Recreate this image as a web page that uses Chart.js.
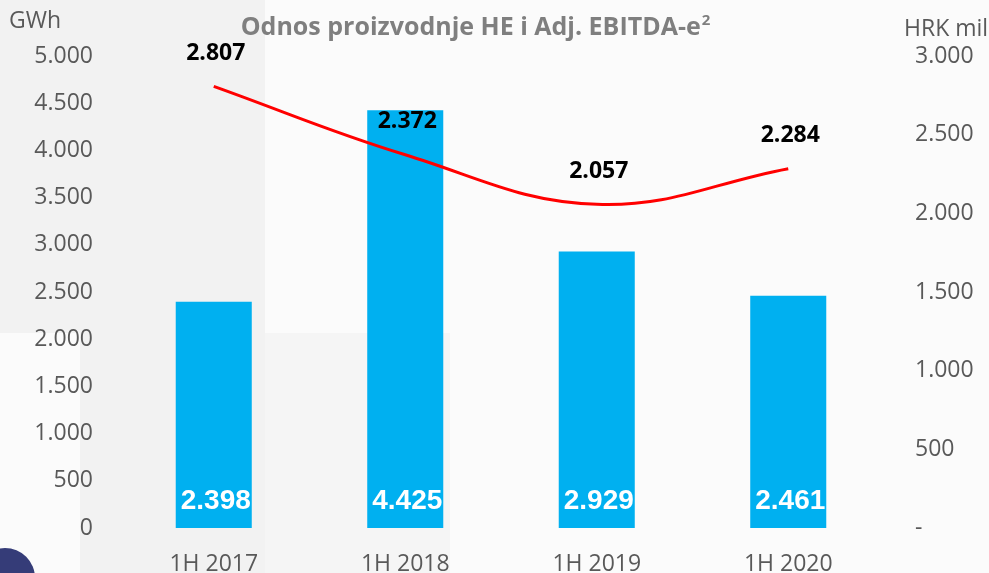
<!DOCTYPE html>
<html>
<head>
<meta charset="utf-8">
<script src="https://cdn.jsdelivr.net/npm/chart.js@4"></script>
<style>
  body { margin: 0; background: #fff; }
  #wrap { position: relative; width: 989px; height: 573px; overflow: hidden; background: #fbfbfb; }
  .bg { position: absolute; }
  canvas { position: absolute; left: 0; top: 0; }
</style>
</head>
<body>
<div id="wrap">
  <div class="bg" style="left:0;top:0;width:265px;height:333px;background:#f2f2f2"></div>
  <div class="bg" style="left:80px;top:333px;width:185px;height:240px;background:#f2f2f2"></div>
  <div class="bg" style="left:265px;top:333px;width:185px;height:240px;background:#f5f5f5"></div>
  <div class="bg" style="left:-25px;top:548px;width:60px;height:60px;border-radius:50%;background:#353c78"></div>
  <canvas id="chart" width="989" height="573"></canvas>
</div>
<script>
const categories = ['1H 2017', '1H 2018', '1H 2019', '1H 2020'];
const productionGWh = [2398, 4425, 2929, 2461];
const ebitdaHRK = [2807, 2372, 2057, 2284];
const leftTicks = [0, 500, 1000, 1500, 2000, 2500, 3000, 3500, 4000, 4500, 5000];
const rightTicks = [0, 500, 1000, 1500, 2000, 2500, 3000];

function fmt(v) {
  return String(v).replace(/\B(?=(\d{3})+(?!\d))/g, '.');
}

const tickColor = '#595959';

// labels, title and axis units drawn on the canvas
const labelsPlugin = {
  id: 'labels',
  afterDatasetsDraw(chart) {
    const ctx = chart.ctx;
    const y = chart.scales.y;
    ctx.save();
    ctx.textAlign = 'center';
    ctx.textBaseline = 'middle';

    ctx.font = 'bold 28px "Liberation Sans"';
    ctx.fillStyle = '#ffffff';
    chart.getDatasetMeta(0).data.forEach((bar, i) => {
      ctx.fillText(fmt(productionGWh[i]), bar.x + 2, y.getPixelForValue(0) - 27);
    });

    ctx.font = 'bold 23px "Open Sans"';
    ctx.fillStyle = '#000000';
    chart.getDatasetMeta(1).data.forEach((pt, i) => {
      ctx.fillText(fmt(ebitdaHRK[i]), pt.x + 2, pt.y - 33);
    });
    ctx.restore();
  },
  afterDraw(chart) {
    const ctx = chart.ctx;
    ctx.save();
    ctx.fillStyle = tickColor;
    ctx.textBaseline = 'middle';
    ctx.font = '23px "Open Sans"';
    ctx.textAlign = 'left';
    ctx.fillText('GWh', 9, 21);
    ctx.fillText('HRK mil', 904, 29);

    // title with superscript
    const main = 'Odnos proizvodnje HE i Adj. EBITDA-e';
    ctx.font = 'bold 25px "Open Sans"';
    const w1 = ctx.measureText(main).width;
    ctx.font = 'bold 15px "Open Sans"';
    const w2 = ctx.measureText('2').width;
    const x0 = 475 - (w1 + w2) / 2;
    ctx.fillStyle = '#7f7f7f';
    ctx.textBaseline = 'alphabetic';
    ctx.font = 'bold 25px "Open Sans"';
    ctx.fillText(main, x0, 35);
    ctx.font = 'bold 15px "Open Sans"';
    ctx.fillText('2', x0 + w1 + 1, 25);
    ctx.restore();
  }
};

new Chart(document.getElementById('chart'), {
  data: {
    labels: categories,
    datasets: [
      {
        type: 'bar',
        data: productionGWh,
        yAxisID: 'y',
        backgroundColor: '#00b0f0',
        categoryPercentage: 1,
        barPercentage: 0.397,
        order: 1
      },
      {
        type: 'line',
        data: ebitdaHRK,
        yAxisID: 'y1',
        borderColor: '#ff0000',
        borderWidth: 3,
        pointRadius: 0,
        tension: 0.4,
        fill: false,
        order: 0
      }
    ]
  },
  options: {
    responsive: false,
    animation: false,
    layout: { padding: { top: 56, left: 0, right: 0, bottom: 0 } },
    plugins: {
      legend: { display: false },
      tooltip: { enabled: false },
      title: { display: false }
    },
    scales: {
      x: {
        grid: { display: false, drawTicks: false },
        border: { display: false },
        ticks: { color: tickColor, font: { family: 'Open Sans', size: 23 }, padding: 23, maxRotation: 0 },
        afterFit(s) { s.height = 45; }
      },
      y: {
        position: 'left',
        min: 0,
        max: 5000,
        afterBuildTicks(s) { s.ticks = leftTicks.map(v => ({ value: v })); },
        grid: { display: false, drawTicks: false },
        border: { display: false },
        ticks: {
          color: tickColor,
          font: { family: 'Open Sans', size: 23 },
          padding: 25,
          callback: v => fmt(v)
        },
        afterFit(s) { s.width = 118; }
      },
      y1: {
        position: 'right',
        min: 0,
        max: 3000,
        afterBuildTicks(s) { s.ticks = rightTicks.map(v => ({ value: v })); },
        grid: { display: false, drawTicks: false },
        border: { display: false },
        ticks: {
          color: tickColor,
          font: { family: 'Open Sans', size: 23 },
          padding: 31,
          callback: v => (v === 0 ? '-' : fmt(v))
        },
        afterFit(s) { s.width = 105; }
      }
    }
  },
  plugins: [labelsPlugin]
});
</script>
</body>
</html>
